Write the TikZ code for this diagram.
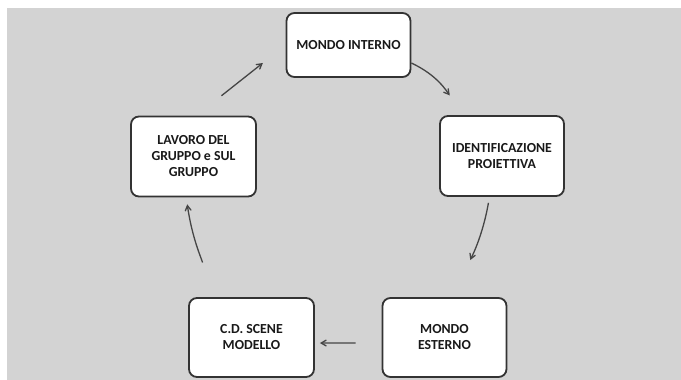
\documentclass[tikz,border=0pt]{standalone}
\usepackage{fontspec}
\setmainfont{Carlito}
\usepackage{tikz}
\usetikzlibrary{arrows}

\definecolor{sfondo}{HTML}{D3D3D3}
\definecolor{bordo}{HTML}{333333}
\definecolor{freccia}{HTML}{454545}

\begin{document}
\begin{tikzpicture}[
		x=1pt, y=-1pt,
		box/.style={draw=bordo, line width=1.8pt, fill=white, rounded corners=8pt,
			align=center, inner sep=0pt, font=\fontsize{13.8}{16}\selectfont\bfseries,
			text=black!90},
		flow/.style={->, draw=freccia, line width=1.3pt},
		>=angle 60]
	%% sfondo
	\useasboundingbox (0,0) rectangle (681,380);
	\fill[sfondo] (7,8) rectangle (681,380);
	%% riquadri
	\node[box, minimum width=124pt, minimum height=64pt] (mi) at (348.5,45) {MONDO INTERNO};
	\node[box, minimum width=124pt, minimum height=80pt] (id) at (502,156) {IDENTIFICAZIONE\\PROIETTIVA};
	\node[box, minimum width=124pt, minimum height=79pt] (me) at (444.5,337.5) {MONDO\\ESTERNO};
	\node[box, minimum width=125pt, minimum height=79pt] (cd) at (251.5,337.5) {C.D. SCENE\\MODELLO};
	\node[box, minimum width=125pt, minimum height=80pt] (lav) at (193.5,156.5) {LAVORO DEL\\GRUPPO e SUL\\GRUPPO};
	%% frecce del ciclo
	\draw[flow, shorten >=25pt] (mi.-16) to[out=-25, in=128] (id.132);
	\draw[flow, shorten <=6pt, shorten >=40pt] (id.-107) to[out=-100, in=68] (me.75);
	\draw[flow, shorten <=26pt, shorten >=5pt] (me.185) -- (cd.-5);
	\draw[flow, shorten <=36pt, shorten >=7pt] (cd.134) to[out=106, in=-82] (lav.260);
	\draw[flow, shorten <=32pt, shorten >=29pt] (lav.86) -- (mi.west);
\end{tikzpicture}
\end{document}
